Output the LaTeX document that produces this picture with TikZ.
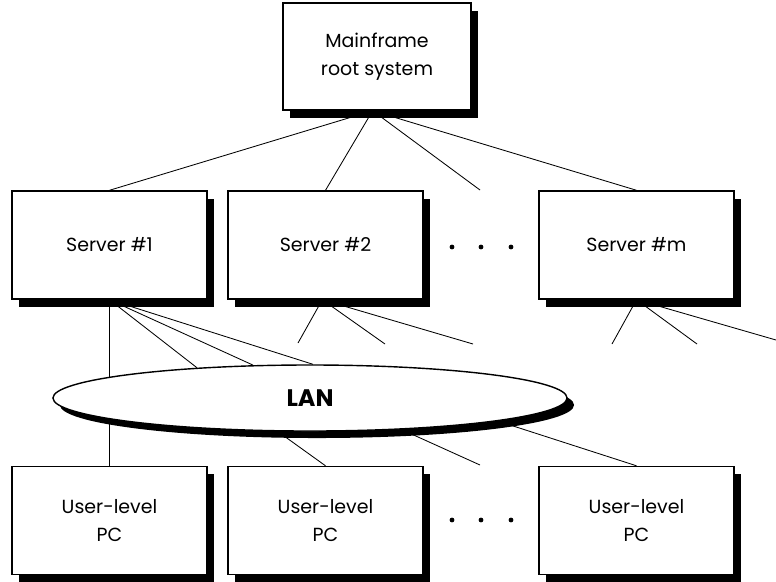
\documentclass[tikz,border=0pt]{standalone}
\usepackage{fontspec}
\setmainfont{Poppins}
\usetikzlibrary{shapes.geometric,shadows,backgrounds}

\begin{document}
\begin{tikzpicture}[x=0.025cm,y=-0.025cm,
  box/.style={draw,rectangle,line width=1pt,fill=white,align=center,
    minimum width=4.875cm,minimum height=2.7cm,
    font=\fontsize{13.5pt}{20pt}\selectfont,
    drop shadow={shadow xshift=0.18cm,shadow yshift=-0.2cm,opacity=1,fill=black}},
  link/.style={line width=0.6pt}]
\useasboundingbox (0,0) rectangle (776,581);
\node[box,minimum width=4.7cm,minimum height=2.675cm] (main) at (377,56.5) {Mainframe\\root system};
\node[box] (s1) at (109.5,245) {Server \#1};
\node[box] (s2) at (325.5,245) {Server \#2};
\node[box] (sm) at (636.5,245) {Server \#m};
\node[box] (pc1) at (109.5,520.5) {User-level\\PC};
\node[box] (pc2) at (325.5,520.5) {User-level\\PC};
\node[box] (pcn) at (636.5,520.5) {User-level\\PC};
\node[draw,ellipse,line width=1pt,fill=white,minimum width=12.85cm,minimum height=1.65cm,
  font=\fontsize{17pt}{20pt}\selectfont\bfseries,
  drop shadow={shadow xshift=0.175cm,shadow yshift=-0.175cm,opacity=1,fill=black}] (lan) at (310,398) {LAN};
% loose ends
\coordinate (m3) at (480,190);
\coordinate (d1) at (298,343);
\coordinate (d2) at (385,344);
\coordinate (d3) at (473,344);
\coordinate (e1) at (612,344);
\coordinate (e2) at (697,344);
\coordinate (e3) at (776,340);
\coordinate (f1) at (480,465);
% dots
\foreach \x in {452,481,511} {
  \fill (\x,247) circle (0.06cm);
  \fill (\x,520) circle (0.06cm);
}
\begin{scope}[on background layer]
\draw[link] ([xshift=-0.11cm]main.south) -- (s1.north);
\draw[link] ([xshift=-0.11cm]main.south) -- (s2.north);
\draw[link] ([xshift=-0.11cm]main.south) -- (m3);
\draw[link] ([xshift=-0.11cm]main.south) -- (sm.north);
\draw[link] (s1.south) -- (pc1.north);
\draw[link] (s1.south) -- (lan.165);
\draw[link] (s1.south) -- (lan.150);
\draw[link] (s1.south) -- (lan.85);
\draw[link] ([xshift=-0.08cm]s2.south) -- (d1);
\draw[link] ([xshift=-0.08cm]s2.south) -- (d2);
\draw[link] ([xshift=-0.08cm]s2.south) -- (d3);
\draw[link] (sm.south) -- (e1);
\draw[link] (sm.south) -- (e2);
\draw[link] (sm.south) -- (e3);
\draw[link] (lan.226) -- (pc2.north);
\draw[link] (lan.341) -- (f1);
\draw[link] (lan.353) -- (pcn.north);
\end{scope}
\end{tikzpicture}
\end{document}
